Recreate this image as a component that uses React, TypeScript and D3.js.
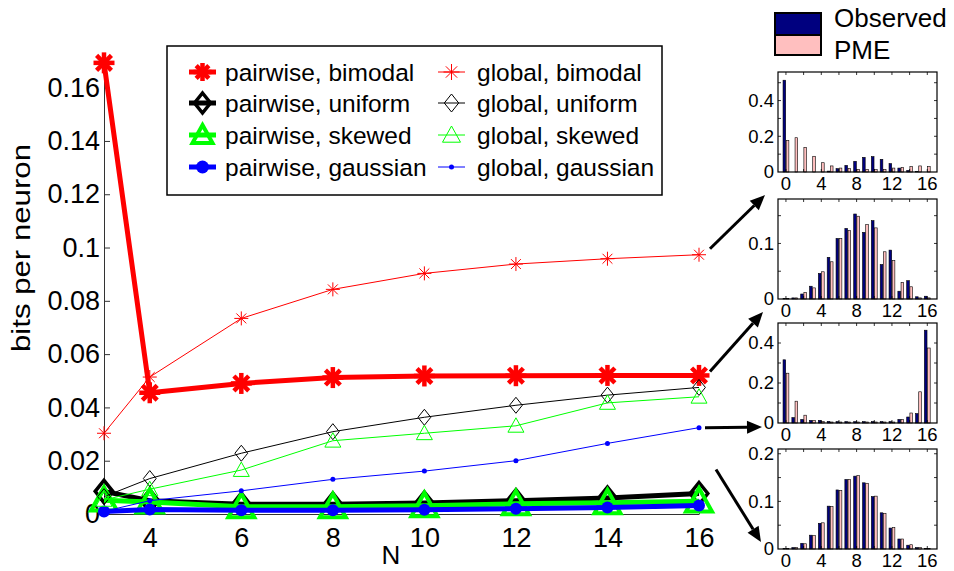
import React, { useEffect, useRef } from "react";
import * as d3 from "d3";

// main panel: bits per neuron vs N
const N = [3, 4, 6, 8, 10, 12, 14, 16];
const pairwiseBimodal = [0.1693, 0.0455, 0.049, 0.0512, 0.0518, 0.0519, 0.052, 0.052];
const pairwiseUniform = [0.0085, 0.005, 0.0037, 0.0037, 0.0041, 0.005, 0.006, 0.0077];
const pairwiseSkewed = [0.0052, 0.0045, 0.0027, 0.0027, 0.0031, 0.0038, 0.0042, 0.0048];
const pairwiseGaussian = [0.0009, 0.0017, 0.0014, 0.0014, 0.0016, 0.002, 0.0024, 0.0032];
const globalBimodal = [0.0303, 0.0514, 0.0734, 0.0843, 0.0903, 0.0938, 0.0958, 0.0973];
const globalUniform = [0.0065, 0.0133, 0.0228, 0.0309, 0.0363, 0.0408, 0.0446, 0.0475];
const globalSkewed = [0.0053, 0.0093, 0.0165, 0.0275, 0.0303, 0.0331, 0.0417, 0.044];
const globalGaussian = [0.001, 0.005, 0.0087, 0.013, 0.0161, 0.02, 0.0265, 0.0324];

const yTicks = [0, 0.02, 0.04, 0.06, 0.08, 0.1, 0.12, 0.14, 0.16];
const xTicks = [4, 6, 8, 10, 12, 14, 16];

// insets: spike count distributions (k = 0..16)
const K = [0, 1, 2, 3, 4, 5, 6, 7, 8, 9, 10, 11, 12, 13, 14, 15, 16];
const obs1 = [0.514, 0, 0, 0, 0, 0.005, 0.019, 0.037, 0.06, 0.082, 0.086, 0.071, 0.047, 0.022, 0.009, 0.002, 0];
const pme1 = [0.177, 0.192, 0.138, 0.088, 0.052, 0.034, 0.022, 0.019, 0.015, 0.015, 0.013, 0.015, 0.022, 0.026, 0.03, 0.034, 0.03];
const obs2 = [0.001, 0.002, 0.009, 0.023, 0.046, 0.075, 0.109, 0.127, 0.153, 0.12, 0.141, 0.062, 0.088, 0.014, 0.033, 0.004, 0.005];
const pme2 = [0.001, 0.002, 0.012, 0.02, 0.049, 0.067, 0.109, 0.123, 0.149, 0.134, 0.128, 0.085, 0.069, 0.03, 0.022, 0.002, 0.002];
const obs3 = [0.316, 0.027, 0.018, 0.013, 0.013, 0.008, 0.007, 0.007, 0.007, 0.007, 0.007, 0.007, 0.007, 0.018, 0.03, 0.047, 0.464];
const pme3 = [0.249, 0.109, 0.039, 0.013, 0.008, 0.005, 0.005, 0.005, 0.005, 0.005, 0.005, 0.005, 0.005, 0.017, 0.05, 0.156, 0.375];
const obs4 = [0.0007, 0.003, 0.012, 0.029, 0.054, 0.09, 0.124, 0.146, 0.153, 0.139, 0.11, 0.076, 0.044, 0.021, 0.008, 0.003, 0.001];
const pme4 = [0.0008, 0.003, 0.011, 0.028, 0.055, 0.089, 0.123, 0.146, 0.154, 0.138, 0.111, 0.075, 0.045, 0.021, 0.009, 0.003, 0.001];
const insetYMax = [0.56, 0.18, 0.5, 0.21];
const insetYLabels = [[0, 0.2, 0.4], [0, 0.1], [0, 0.2, 0.4], [0, 0.1, 0.2]];
const insetYMinor = [0.1, 0.05, 0.1, 0.05];
const insetXLabels = [0, 4, 8, 12, 16];

const FONT = "'Liberation Sans', Arial, Helvetica, sans-serif";
const OBS_COLOR = "#00007f";
const PME_COLOR = "#ffbfbf";

const drawMarker = (g, type, cx, cy, r, color, sw) => {
  if (type === "asterisk") {
    [0, 45, 90, 135].forEach((a) => {
      const t = (a * Math.PI) / 180;
      g.append("line")
        .attr("x1", cx - r * Math.cos(t))
        .attr("y1", cy - r * Math.sin(t))
        .attr("x2", cx + r * Math.cos(t))
        .attr("y2", cy + r * Math.sin(t))
        .attr("stroke", color)
        .attr("stroke-width", sw);
    });
  } else if (type === "diamond") {
    const w = r * 0.8;
    g.append("path")
      .attr("d", `M${cx},${cy - r}L${cx + w},${cy}L${cx},${cy + r}L${cx - w},${cy}Z`)
      .attr("fill", "none")
      .attr("stroke", color)
      .attr("stroke-width", sw)
      .attr("stroke-linejoin", "miter");
  } else if (type === "triangle") {
    g.append("path")
      .attr("d", `M${cx},${cy - r}L${cx + r},${cy + r * 0.8}L${cx - r},${cy + r * 0.8}Z`)
      .attr("fill", "none")
      .attr("stroke", color)
      .attr("stroke-width", sw)
      .attr("stroke-linejoin", "miter");
  } else {
    g.append("circle").attr("cx", cx).attr("cy", cy).attr("r", r).attr("fill", color);
  }
};

const App = () => {
  const ref = useRef(null);

  useEffect(() => {
    const svg = d3.select(ref.current);
    svg.selectAll("*").remove();

    // scales of the main panel
    const x = d3.scaleLinear().domain([3, 16]).range([104, 699]);
    const y = d3.scaleLinear().domain([0, 0.17]).range([514, 61]);

    const series = [
      { name: "pairwise, bimodal", values: pairwiseBimodal, color: "#ff0000", lw: 5, marker: "asterisk", r: 10.5, mw: 4.5, lr: 9 },
      { name: "pairwise, uniform", values: pairwiseUniform, color: "#000000", lw: 5, marker: "diamond", r: 11, mw: 3.5, lr: 10 },
      { name: "pairwise, skewed", values: pairwiseSkewed, color: "#00ff00", lw: 5, marker: "triangle", r: 13, mw: 4, lr: 10 },
      { name: "pairwise, gaussian", values: pairwiseGaussian, color: "#0000ff", lw: 5, marker: "dot", r: 6, mw: 0, lr: 6.5 },
      { name: "global, bimodal", values: globalBimodal, color: "#ff0000", lw: 1, marker: "asterisk", r: 7, mw: 1, lr: 8 },
      { name: "global, uniform", values: globalUniform, color: "#000000", lw: 1, marker: "diamond", r: 8, mw: 1, lr: 9 },
      { name: "global, skewed", values: globalSkewed, color: "#00ff00", lw: 1, marker: "triangle", r: 8, mw: 1, lr: 9 },
      { name: "global, gaussian", values: globalGaussian, color: "#0000ff", lw: 1, marker: "dot", r: 2.5, mw: 0, lr: 2.5 },
    ];

    // axes (left and bottom only, inward ticks)
    const yAxis = svg
      .append("g")
      .attr("transform", `translate(${x(3)},0)`)
      .call(
        d3.axisLeft(y)
          .tickValues(yTicks)
          .tickSize(-6)
          .tickSizeOuter(0)
          .tickPadding(4)
          .tickFormat((d) => String(+(+d).toFixed(2)))
      );
    yAxis.select(".domain").attr("stroke", "#333");
    yAxis.selectAll(".tick line").attr("stroke", "#333");
    yAxis.selectAll("text").attr("font-size", 27).attr("font-family", FONT).attr("fill", "#000");

    const xAxis = svg
      .append("g")
      .attr("transform", `translate(0,${y(0)})`)
      .call(d3.axisBottom(x).tickValues(xTicks).tickSize(-6).tickSizeOuter(0).tickPadding(14));
    xAxis.select(".domain").attr("stroke", "#333");
    xAxis.selectAll(".tick line").attr("stroke", "#333");
    xAxis.selectAll("text").attr("font-size", 27).attr("font-family", FONT).attr("fill", "#000");

    // axis labels
    svg
      .append("text")
      .attr("transform", "translate(30,248) rotate(-90)")
      .attr("text-anchor", "middle")
      .attr("font-family", FONT)
      .attr("font-size", 26)
      .attr("textLength", 208)
      .attr("lengthAdjust", "spacingAndGlyphs")
      .text("bits per neuron");

    svg
      .append("text")
      .attr("x", 391)
      .attr("y", 564)
      .attr("text-anchor", "middle")
      .attr("font-family", FONT)
      .attr("font-size", 26)
      .text("N");

    // lines and markers
    const line = d3
      .line()
      .x((d) => x(d[0]))
      .y((d) => y(d[1]));

    const plot = svg.append("g");
    series.forEach((s) => {
      const pts = N.map((n, i) => [n, s.values[i]]);
      plot
        .append("path")
        .datum(pts)
        .attr("d", line)
        .attr("fill", "none")
        .attr("stroke", s.color)
        .attr("stroke-width", s.lw)
        .attr("stroke-linejoin", "round");
      pts.forEach((p) => drawMarker(plot, s.marker, x(p[0]), y(p[1]), s.r, s.color, s.mw));
    });

    // legend
    const legend = svg.append("g");
    legend
      .append("rect")
      .attr("x", 167)
      .attr("y", 46)
      .attr("width", 495)
      .attr("height", 149)
      .attr("fill", "#fff")
      .attr("stroke", "#000")
      .attr("stroke-width", 1.5);
    const rowY = [72, 103, 135, 167];
    series.forEach((s, i) => {
      const col = i < 4 ? 0 : 1;
      const ry = rowY[i % 4];
      const lx = col === 0 ? 189 : 438;
      legend
        .append("line")
        .attr("x1", lx)
        .attr("x2", lx + 27)
        .attr("y1", ry)
        .attr("y2", ry)
        .attr("stroke", s.color)
        .attr("stroke-width", s.lw);
      drawMarker(legend, s.marker, lx + 13.5, ry, s.lr, s.color, s.mw);
      legend
        .append("text")
        .attr("x", col === 0 ? 225 : 477)
        .attr("y", ry)
        .attr("dy", "0.35em")
        .attr("font-family", FONT)
        .attr("font-size", 24.5)
        .text(s.name);
    });

    // insets
    const insets = [
      { obs: obs1, pme: pme1, top: 72 },
      { obs: obs2, pme: pme2, top: 199 },
      { obs: obs3, pme: pme3, top: 323 },
      { obs: obs4, pme: pme4, top: 449 },
    ];
    const insetH = 100;
    const xs = d3.scaleLinear().domain([-0.9, 17.1]).range([778, 937]);
    const insetFrames = insets.map((ins, idx) => {
      const g = svg.append("g");
      const ys = d3.scaleLinear().domain([0, insetYMax[idx]]).range([ins.top + insetH, ins.top]);
      const bw = xs(0.3) - xs(0);
      K.forEach((k, i) => {
        g.append("rect")
          .attr("x", xs(k - 0.33))
          .attr("y", ys(ins.obs[i]))
          .attr("width", bw)
          .attr("height", ys(0) - ys(ins.obs[i]))
          .attr("fill", OBS_COLOR)
          .attr("stroke", "#000")
          .attr("stroke-width", 0.6);
        g.append("rect")
          .attr("x", xs(k + 0.03))
          .attr("y", ys(ins.pme[i]))
          .attr("width", bw)
          .attr("height", ys(0) - ys(ins.pme[i]))
          .attr("fill", PME_COLOR)
          .attr("stroke", "#000")
          .attr("stroke-width", 0.6);
      });
      // frame
      g.append("rect")
        .attr("x", xs.range()[0])
        .attr("y", ins.top)
        .attr("width", xs.range()[1] - xs.range()[0])
        .attr("height", insetH)
        .attr("fill", "none")
        .attr("stroke", "#000")
        .attr("stroke-width", 1.2);
      // minor ticks on all sides
      d3.range(insetYMinor[idx], insetYMax[idx], insetYMinor[idx]).forEach((v) => {
        [xs.range()[0], xs.range()[1]].forEach((ex, j) => {
          g.append("line")
            .attr("x1", ex)
            .attr("x2", ex + (j === 0 ? 3 : -3))
            .attr("y1", ys(v))
            .attr("y2", ys(v))
            .attr("stroke", "#000")
            .attr("stroke-width", 0.8);
        });
      });
      d3.range(0, 17, 2).forEach((v) => {
        [ins.top, ins.top + insetH].forEach((ey, j) => {
          g.append("line")
            .attr("x1", xs(v))
            .attr("x2", xs(v))
            .attr("y1", ey)
            .attr("y2", ey + (j === 0 ? 3 : -3))
            .attr("stroke", "#000")
            .attr("stroke-width", 0.8);
        });
      });
      insetYLabels[idx].forEach((v) => {
        g.append("text")
          .attr("x", xs.range()[0] - 4)
          .attr("y", ys(v))
          .attr("dy", "0.35em")
          .attr("text-anchor", "end")
          .attr("font-family", FONT)
          .attr("font-size", 18.5)
          .text(String(v));
      });
      insetXLabels.forEach((v) => {
        g.append("text")
          .attr("x", xs(v))
          .attr("y", ins.top + insetH + 12)
          .attr("dy", "0.35em")
          .attr("text-anchor", "middle")
          .attr("font-family", FONT)
          .attr("font-size", 18.5)
          .text(String(v));
      });
      return { left: xs.range()[0], top: ins.top, bottom: ins.top + insetH };
    });

    // inset legend
    const il = svg.append("g");
    [
      { label: "Observed", color: OBS_COLOR, top: 13, h: 22, ty: 18 },
      { label: "PME", color: PME_COLOR, top: 35, h: 20, ty: 50 },
    ].forEach((e) => {
      il.append("rect")
        .attr("x", 775)
        .attr("y", e.top)
        .attr("width", 46)
        .attr("height", e.h)
        .attr("fill", e.color)
        .attr("stroke", "#000")
        .attr("stroke-width", 2);
      il.append("text")
        .attr("x", 834)
        .attr("y", e.ty)
        .attr("dy", "0.35em")
        .attr("font-family", FONT)
        .attr("font-size", 26)
        .text(e.label);
    });

    // arrows from N=16 points to the insets
    const arrow = (x1, y1, x2, y2) => {
      const ang = Math.atan2(y2 - y1, x2 - x1);
      const hl = 15;
      const hw = 6.5;
      const bx = x2 - hl * Math.cos(ang);
      const by = y2 - hl * Math.sin(ang);
      svg
        .append("line")
        .attr("x1", x1)
        .attr("y1", y1)
        .attr("x2", bx)
        .attr("y2", by)
        .attr("stroke", "#000")
        .attr("stroke-width", 3);
      const px = -Math.sin(ang) * hw;
      const py = Math.cos(ang) * hw;
      svg
        .append("path")
        .attr("d", `M${x2},${y2}L${bx + px},${by + py}L${bx - px},${by - py}Z`)
        .attr("fill", "#000");
    };
    const last = N.length - 1;
    arrow(x(16) + 11, y(globalBimodal[last]) - 6, insetFrames[1].left - 13, insetFrames[1].top - 4);
    arrow(x(16) + 11, y(pairwiseBimodal[last]) - 4, insetFrames[2].left - 15, insetFrames[2].top - 11);
    arrow(x(16) + 6, y(globalGaussian[last]), insetFrames[2].left - 16, insetFrames[2].bottom + 4);
    arrow(x(16) + 17, y(pairwiseUniform[last]) - 24, insetFrames[3].left - 17, insetFrames[3].bottom - 7);
  }, []);

  return (
    <div style={{ position: "absolute", left: 0, top: 0 }}>
      <svg ref={ref} width={954} height={571} style={{ background: "#fff", display: "block" }}></svg>
    </div>
  );
};

export default App;
